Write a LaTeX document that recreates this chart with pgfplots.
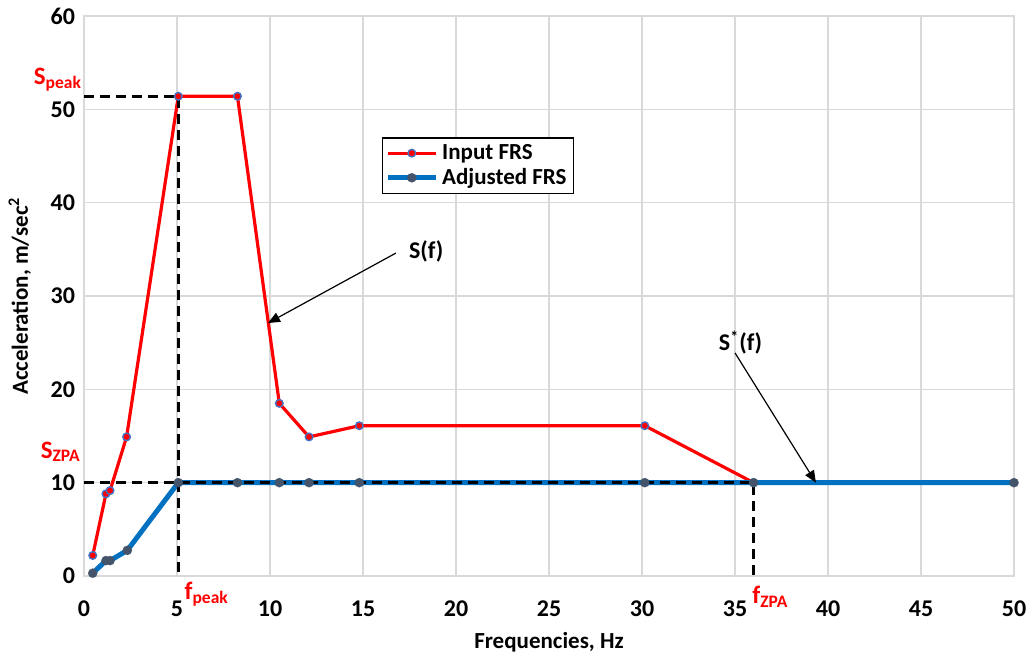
\documentclass[border=0pt]{standalone}
\usepackage{fontspec}
\setmainfont{Carlito}
\usepackage{pgfplots}
\pgfplotsset{compat=1.18}
\usetikzlibrary{arrows.meta}

\definecolor{frsred}{HTML}{FF0000}
\definecolor{frsblue}{HTML}{0070C0}
\definecolor{mkblue}{HTML}{4472C4}
\definecolor{mkgray}{HTML}{44546A}
\definecolor{gridgray}{HTML}{D9D9D9}

\pgfplotstableread{
f     s
0.47  2.2
1.18  8.8
1.40  9.15
2.29  14.9
5.07  51.4
8.25  51.4
10.5  18.5
12.1  14.9
14.8  16.1
30.15 16.1
36.0  10.0
}\inputfrs

\pgfplotstableread{
f     s
0.47  0.3
1.18  1.65
1.40  1.65
2.33  2.75
5.07  10
8.25  10
10.5  10
12.1  10
14.8  10
30.15 10
36.0  10
50.0  10
}\adjfrs

\begin{document}
\begin{tikzpicture}[font=\bfseries]
\begin{axis}[
    scale only axis, width=465pt, height=280pt,
    xmin=0, xmax=50, ymin=0, ymax=60,
    xtick={0,5,...,50}, ytick={0,10,...,60},
    grid=major, major grid style={gridgray, line width=0.8pt},
    axis line style={gridgray, line width=0.8pt},
    tick style={draw=none},
    /pgf/number format/assume math mode=true,
    tick label style={font=\fontsize{12}{14}\selectfont\bfseries},
    xticklabel style={yshift=-9pt},
    yticklabel style={xshift=-1pt},
    label style={font=\fontsize{11.5}{13}\selectfont\bfseries},
    xlabel={Frequencies, Hz}, ylabel={Acceleration, m/sec\textsuperscript{2}},
    xlabel style={yshift=-1pt}, ylabel style={yshift=3pt},
    clip=false,
    legend cell align=left,
    legend style={at={(axis cs:16,47)}, anchor=north west,
        draw=black, line width=0.8pt, font=\fontsize{11.5}{13}\selectfont\bfseries,
        inner xsep=1.5pt, inner ysep=1pt, row sep=-1pt},
    legend image code/.code={\draw[mark repeat=2,mark phase=2]
        plot coordinates {(0cm,0cm)(0.42cm,0cm)(0.84cm,0cm)};},
]
\addlegendimage{frsred, line width=1.6pt, mark=*, mark size=1.9pt,
    mark options={fill=frsred, draw=mkblue, line width=0.7pt}}
\addlegendentry{Input FRS}
\addlegendimage{frsblue, line width=2.5pt, mark=*, mark size=2.3pt,
    mark options={fill=mkgray, draw=mkgray, line width=0.1pt}}
\addlegendentry{Adjusted FRS}

% input spectrum
\addplot[forget plot, frsred, line width=1.6pt, mark=*, mark size=1.9pt,
    mark options={fill=frsred, draw=mkblue, line width=0.7pt}]
    table[x=f, y=s] {\inputfrs};
% adjusted spectrum line
\addplot[forget plot, frsblue, line width=2.5pt] table[x=f, y=s] {\adjfrs};

% guide lines
\addplot[forget plot, black, line width=1.3pt, dash pattern=on 5pt off 3pt]
    coordinates {(0,51.4) (5.07,51.4) (5.07,0)};
\addplot[forget plot, black, line width=1.3pt, dash pattern=on 5pt off 3pt]
    coordinates {(0,10) (36.0,10) (36.0,0)};

% adjusted markers on top
\addplot[forget plot, only marks, mark=*, mark size=2.3pt,
    mark options={fill=mkgray, draw=mkgray, line width=0.1pt}]
    table[x=f, y=s] {\adjfrs};

% annotations
\node[frsred, font=\fontsize{12.5}{14}\selectfont\bfseries] at (axis cs:-1.4,53.2) {S\textsubscript{peak}};
\node[frsred, font=\fontsize{12.5}{14}\selectfont\bfseries] at (axis cs:-1.25,13.3) {S\textsubscript{ZPA}};
\node[frsred, font=\fontsize{12.5}{14}\selectfont\bfseries] at (axis cs:6.6,-2.0) {f\textsubscript{peak}};
\node[frsred, font=\fontsize{12.5}{14}\selectfont\bfseries] at (axis cs:36.9,-2.2) {f\textsubscript{ZPA}};

\node[font=\fontsize{12}{14}\selectfont\bfseries] at (axis cs:18.4,34.8) {S(f)};
\draw[black, line width=0.6pt, -{Triangle[length=6pt,width=5pt]}]
    (axis cs:16.77,34.6) -- (axis cs:9.89,27.1);
\node[font=\fontsize{12}{14}\selectfont\bfseries] at (axis cs:35.3,25.0) {S\textsuperscript{*}(f)};
\draw[black, line width=0.6pt, -{Triangle[length=6pt,width=5pt]}]
    (axis cs:35.0,23.9) -- (axis cs:39.35,10.0);

\coordinate (sw) at (rel axis cs:0,0);
\coordinate (ne) at (rel axis cs:1,1);
\end{axis}
\pgfresetboundingbox
\path (sw) ++(-42pt,-39pt) coordinate (bbA);
\path (ne) ++(7.5pt,8pt) coordinate (bbB);
\path[use as bounding box] (bbA) rectangle (bbB);
\end{tikzpicture}
\end{document}
